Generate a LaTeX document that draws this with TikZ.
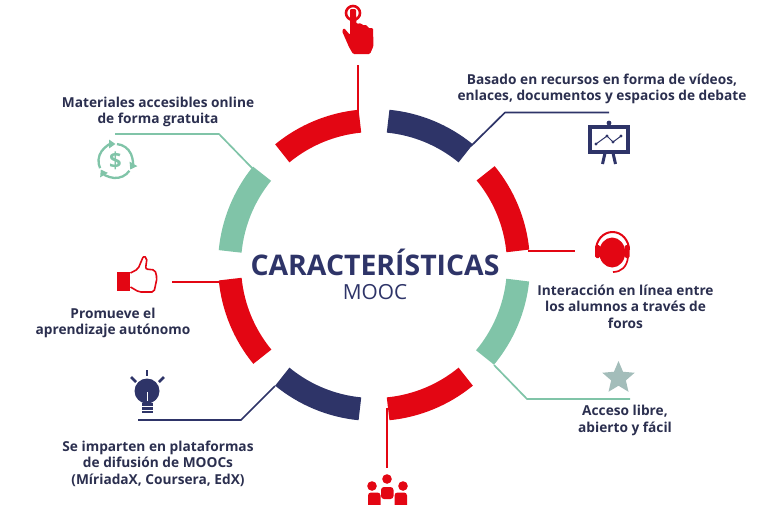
\documentclass[tikz,border=0pt]{standalone}
\usepackage{fontspec}
\setmainfont{Open Sans}
\usetikzlibrary{positioning, arrows.meta, shapes.geometric, calc}
\definecolor{mred}{HTML}{E30613}
\definecolor{mnavy}{HTML}{2E3468}
\definecolor{mgreen}{HTML}{80C4A8}
\definecolor{mstar}{HTML}{A3BDBA}
\definecolor{mtext}{HTML}{2B2F4F}
\tikzset{
x=1pt, y=1pt,
txt/.style={text=mtext, align=center, inner sep=0pt, font=\fontsize{13.7}{16.4}\selectfont\bfseries}, % the texts round the ring
link/.style={line width=1.7pt, line join=round}, % thin lines from the ring
seg/.style={line width=23pt}, % the ring pieces
}

\begin{document}
\begin{tikzpicture}
    \useasboundingbox (0,0) rectangle (770,-504);
    \coordinate (c) at (374,-265);

    % ring
    \foreach \a/\col in {5.6/mred, 50.6/mnavy, 95.6/mred, 140.8/mgreen, 185.6/mred, 230.6/mnavy, 275.6/mred, 320.2/mgreen}{
        \draw[seg, \col] ($(c)+(\a:144.5)$) arc (\a:\a+33.8:144.5);
    }

    % centre
    \node[text=mnavy, inner sep=0pt, font=\fontsize{28.4}{30}\selectfont\bfseries] (title) at (375,-262.5) {CARACTERÍSTICAS};
    \node[text=mnavy, inner sep=0pt, font=\fontsize{20.8}{22}\selectfont] (sub) at (375,-292) {MOOC};

    % labels
    \node[txt] (lmat) at (158,-111.8) {Materiales accesibles online\\de forma gratuita};
    \node[txt] (lrec) at (602,-88.8) {Basado en recursos en forma de vídeos,\\enlaces, documentos y espacios de debate};
    \node[txt] (lint) at (625.5,-306.5) {Interacción en línea entre\\los alumnos a través de\\foros};
    \node[txt] (lacc) at (625,-420.5) {Acceso libre,\\abierto y fácil};
    \node[txt] (lpro) at (113,-323.2) {Promueve el\\aprendizaje autónomo};
    \node[txt] (lpla) at (158,-463.5) {Se imparten en plataformas\\de difusión de MOOCs\\(MíriadaX, Coursera, EdX)};

    % connector ends
    \coordinate (a1) at (358,-122);
    \coordinate (e1) at (358,-65);
    \coordinate (a2) at (471,-146);
    \coordinate (k2) at (505,-112.5);
    \coordinate (e2) at (609,-112.5);
    \coordinate (a3) at (528,-251);
    \coordinate (e3) at (575,-251);
    \coordinate (a4) at (494,-365);
    \coordinate (k4) at (527,-399);
    \coordinate (e4) at (630,-399);
    \coordinate (a5) at (387,-408);
    \coordinate (e5) at (387,-468);
    \coordinate (a6) at (275,-386);
    \coordinate (k6) at (241,-420);
    \coordinate (e6) at (138,-420);
    \coordinate (a7) at (219,-282);
    \coordinate (e7) at (172,-282);
    \coordinate (a8) at (253,-169);
    \coordinate (k8) at (219,-134);
    \coordinate (e8) at (115,-134);

    \draw[link, mred] (a1) -- (e1);
    \draw[link, mnavy] (a2) -- (k2) -- (e2);
    \draw[link, mred] (a3) -- (e3);
    \draw[link, mgreen] (a4) -- (k4) -- (e4);
    \draw[link, mred] (a5) -- (e5);
    \draw[link, mnavy] (a6) -- (k6) -- (e6);
    \draw[link, mred] (a7) -- (e7);
    \draw[link, mgreen] (a8) -- (k8) -- (e8);

    % hand
    \draw[mred, line width=2.6pt] (353,-13) circle (7);
    \fill[mred, rounded corners=1.2pt] (350,-9) -- (356,-9) -- (356.5,-24) -- (361,-23) -- (362,-25) -- (367,-25) -- (368,-28) -- (373,-28) -- (373.5,-46) -- (370,-54) -- (353,-54) -- (349,-47) -- (342,-31) -- (344,-28) -- (350,-35) -- cycle;

    % board
    \draw[mnavy, line width=3.3pt, fill=white] (590,-127) rectangle (628,-152);
    \fill[mnavy] (609,-123) circle (2.4);
    \draw[mnavy, line width=3pt] (605,-153) -- (602.5,-164);
    \draw[mnavy, line width=3pt] (613,-153) -- (615.5,-164);
    \draw[mnavy, line width=1pt] (596,-144) -- (607,-136) -- (613,-142) -- (621,-136);
    \foreach \p in {(596,-144),(607,-136),(613,-142),(621,-136)}{
        \fill[mnavy] \p circle (1.6);
    }

    % headset
    \fill[mred] (612.2,-252.5) ellipse (13 and 15);
    \draw[mred, line width=2pt] (596,-250) arc (180:0:16.5 and 18);
    \fill[mred, rounded corners=1.5pt] (595,-245) rectangle (600,-258);
    \fill[mred, rounded corners=1.5pt] (624.5,-245) rectangle (629.5,-258);
    \draw[mred, line width=1.7pt] (628,-257) .. controls (627,-267) and (621,-272) .. (613,-272);

    % dollar
    \node[text=mgreen, inner sep=0pt, font=\fontsize{22}{24}\selectfont\bfseries] (dollar) at (115.5,-161) {\$};
    \foreach \a in {0,120,240}{
        \draw[mgreen, line width=2.3pt, -{Triangle[length=6.5pt,width=8.5pt]}] ($(115.5,-161)+(\a+205:17)$) arc (\a+205:\a+90:17);
    }

    % thumb
    \fill[mred] (117,-272) rectangle (130,-291);
    \draw[mred, line width=1.6pt, rounded corners=2pt, fill=white] (130.5,-273) -- (138,-269) -- (143.5,-256) -- (147,-258) -- (145.5,-269) -- (155,-270) -- (157,-278) -- (154,-292) -- (139,-292) -- (130.5,-287);

    % bulb
    \fill[mnavy] (147,-391) circle (12.5);
    \draw[white, line width=1pt] (147,-392) -- (147,-401);
    \fill[mnavy] (142,-403) rectangle (153,-413);
    \draw[white, line width=.8pt] (142,-406.5) -- (153,-406.5);
    \draw[white, line width=.8pt] (142,-410) -- (153,-410);
    \draw[mnavy, line width=2.6pt] (147,-370) -- (147,-376);
    \draw[mnavy, line width=2.6pt] (131,-377) -- (136,-382);
    \draw[mnavy, line width=2.6pt] (164,-377) -- (159,-382);

    % people
    \fill[mred] (387,-479) circle (4.8);
    \fill[mred] (372,-486) circle (4.8);
    \fill[mred] (403,-486) circle (4.8);
    \fill[mred, rounded corners=3pt] (381,-487) rectangle (393.5,-499);
    \fill[mred, rounded corners=3pt] (368,-492.5) rectangle (380.5,-510);
    \fill[mred, rounded corners=3pt] (394.5,-492.5) rectangle (407,-510);

    % star
    \node[star, star points=5, star point ratio=2.2, fill=mstar, minimum size=34pt, inner sep=0pt] (stari) at (618.5,-378) {};
\end{tikzpicture}
\end{document}
